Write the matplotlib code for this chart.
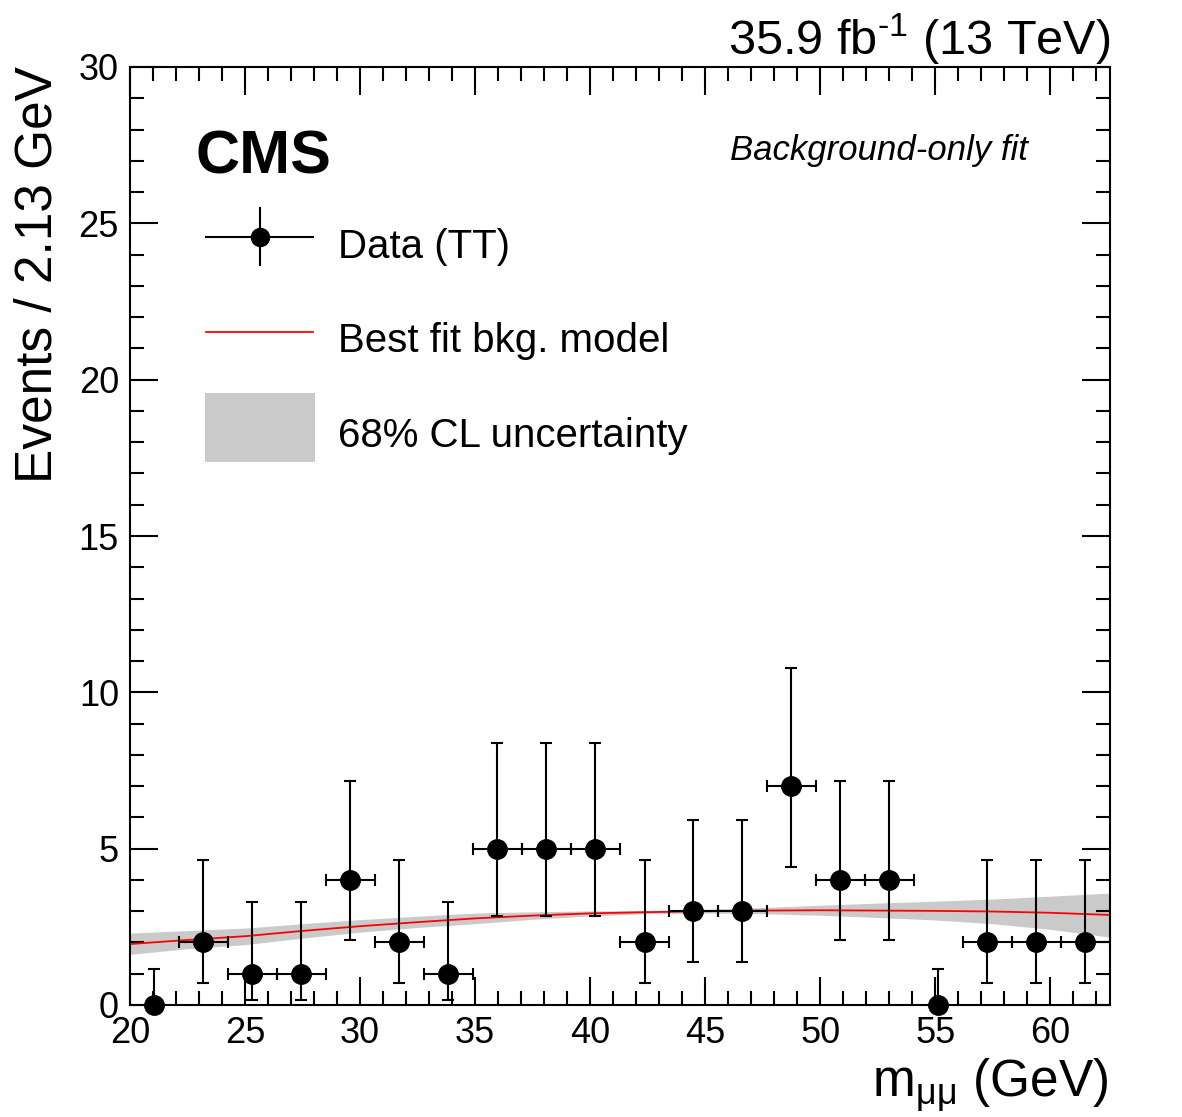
import numpy as np
import matplotlib
matplotlib.use("Agg")
import matplotlib.pyplot as plt
from matplotlib.lines import Line2D
from matplotlib.patches import Rectangle
from matplotlib.ticker import MultipleLocator

plt.rcParams['font.family'] = ['Liberation Sans', 'DejaVu Sans']
plt.rcParams['mathtext.fontset'] = 'custom'
plt.rcParams['mathtext.rm'] = 'Liberation Sans'
plt.rcParams['mathtext.it'] = 'Liberation Sans:italic'
plt.rcParams['mathtext.bf'] = 'Liberation Sans:bold'

# ---------------- data ----------------
bin_centers = [21.065, 23.195, 25.325, 27.455, 29.585, 31.715, 33.845, 35.975,
               38.105, 40.235, 42.365, 44.495, 46.625, 48.755, 50.885, 53.015,
               55.145, 57.275, 59.405, 61.535]
counts = [0, 2, 1, 1, 4, 2, 1, 5, 5, 5, 2, 3, 3, 7, 4, 4, 0, 2, 2, 2]
err_low = [0.0, 1.291, 0.827, 0.827, 1.914, 1.291, 0.827, 2.159, 2.159, 2.159,
           1.291, 1.633, 1.633, 2.580, 1.914, 1.914, 0.0, 1.291, 1.291, 1.291]
err_high = [1.148, 2.638, 2.299, 2.299, 3.162, 2.638, 2.299, 3.382, 3.382, 3.382,
            2.638, 2.918, 2.918, 3.770, 3.162, 3.162, 1.148, 2.638, 2.638, 2.638]
half_bin = 1.065

fit_x = [20.0, 22.5, 25.0, 27.5, 30.0, 32.5, 35.0, 37.5, 40.0, 42.5, 45.0,
         47.5, 50.0, 52.5, 55.0, 57.5, 60.0, 62.6]
fit_y = [1.95, 2.08, 2.20, 2.37, 2.52, 2.65, 2.77, 2.86, 2.93, 2.97, 3.00,
         3.02, 3.03, 3.02, 3.01, 2.99, 2.95, 2.88]
band_lo = [1.62, 1.80, 1.93, 2.14, 2.33, 2.48, 2.60, 2.74, 2.85, 2.92, 2.94,
           2.92, 2.87, 2.80, 2.72, 2.60, 2.42, 2.17]
band_hi = [2.30, 2.38, 2.46, 2.60, 2.73, 2.84, 2.94, 2.98, 3.01, 3.02, 3.06,
           3.12, 3.19, 3.26, 3.32, 3.39, 3.48, 3.58]

x_min, x_max = 20.0, 62.6
y_min, y_max = 0, 30

# ---------------- figure ----------------
W, H = 1182, 1117
fig = plt.figure(figsize=(W / 100, H / 100), dpi=100)
ax = fig.add_axes([130 / W, 1 - 1005 / H, 980 / W, 938 / H])

def fx(px):
    return px / W

def fy(py):
    return 1 - py / H

grey = '#cacaca'

ax.fill_between(fit_x, band_lo, band_hi, color=grey, lw=0, zorder=1)
ax.plot(fit_x, fit_y, color='red', lw=1.3, zorder=2)

bc = np.array(bin_centers)
cn = np.array(counts)
el = np.array(err_low)
eh = np.array(err_high)
nz = cn > 0
z = ~nz
ax.errorbar(bc[nz], cn[nz], xerr=half_bin, yerr=[el[nz], eh[nz]], fmt='o',
            color='black', ms=14, elinewidth=1.5, capsize=4.3, capthick=1.5,
            zorder=3, clip_on=False)
ax.errorbar(bc[z], cn[z], yerr=[el[z], eh[z]], fmt='o',
            color='black', ms=14, elinewidth=1.5, capsize=4.3, capthick=1.5,
            zorder=3, clip_on=False)

ax.set_xlim(x_min, x_max)
ax.set_ylim(y_min, y_max)
ax.xaxis.set_major_locator(MultipleLocator(5))
ax.xaxis.set_minor_locator(MultipleLocator(1))
ax.yaxis.set_major_locator(MultipleLocator(5))
ax.yaxis.set_minor_locator(MultipleLocator(1))
ax.tick_params(which='both', direction='in', top=True, right=True, width=1.5,
               labelsize=26, pad=8)
ax.tick_params(which='major', length=20)
ax.tick_params(which='minor', length=10)
for s in ax.spines.values():
    s.set_linewidth(1.5)

# axis labels
fig.text(fx(52), fy(66), 'Events / 2.13 GeV', fontsize=37, rotation=90,
         rotation_mode='anchor', ha='right', va='baseline')
fig.text(fx(1108), fy(1097), r'm$_{\mathrm{μμ}}$ (GeV)', fontsize=37,
         ha='right', va='baseline')

# header texts
fig.text(fx(1110), fy(55), r'35.9 fb$^{\text{-1}}$ (13 TeV)', fontsize=35,
         ha='right', va='baseline')
fig.text(fx(195), fy(173), 'CMS', fontsize=44, fontweight='bold',
         ha='left', va='baseline')
fig.text(fx(1028), fy(160), 'Background-only fit', fontsize=25,
         style='italic', ha='right', va='baseline')

# legend (manual)
lt = fig.transFigure
fig.add_artist(Line2D([fx(206), fx(313)], [fy(237), fy(237)], color='black',
                      lw=1.5, transform=lt))
fig.add_artist(Line2D([fx(260), fx(260)], [fy(208), fy(265)], color='black',
                      lw=1.5, transform=lt))
fig.add_artist(Line2D([fx(260)], [fy(237)], marker='o', ms=13, color='black',
                      transform=lt))
fig.text(fx(338), fy(258), 'Data (TT)', fontsize=29, va='baseline')

fig.add_artist(Line2D([fx(206), fx(313)], [fy(332), fy(332)], color='red',
                      lw=1.3, transform=lt))
fig.text(fx(338), fy(352), 'Best fit bkg. model', fontsize=29, va='baseline')

fig.add_artist(Rectangle((fx(205), fy(462)), fx(315) - fx(205), fy(393) - fy(462),
                         color=grey, lw=0, transform=lt))
fig.text(fx(338), fy(447), '68% CL uncertainty', fontsize=29, va='baseline')

fig.savefig('out.png', dpi=100)
